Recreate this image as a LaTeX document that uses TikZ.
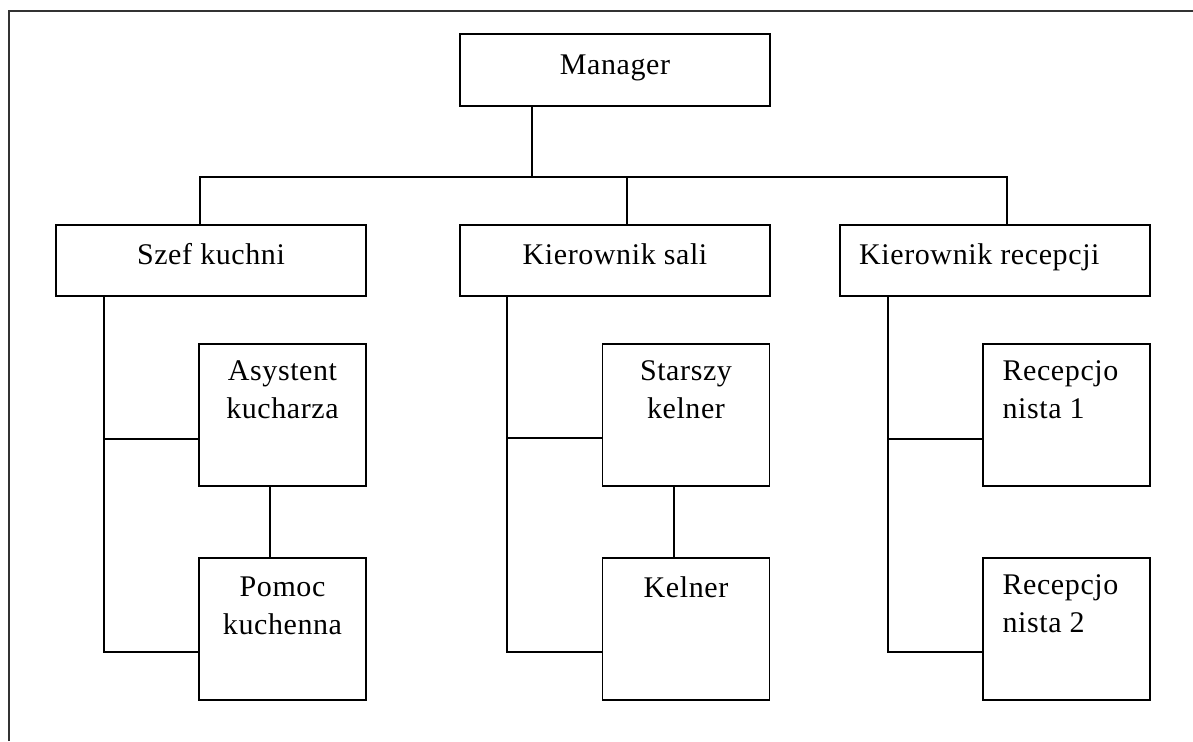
\documentclass[tikz,border=0pt]{standalone}
\usepackage{fontspec}
\setmainfont{Liberation Serif}[LetterSpace=2]
\begin{document}
\begin{tikzpicture}[x=1pt,y=-1pt,
  box/.style={draw, line width=1.3pt, inner sep=0pt, minimum width=#1},
  wide/.style={box=310pt, minimum height=71pt},
  tall/.style={box=167pt, minimum height=142pt},
  lbl/.style={inner sep=0pt, font=\fontsize{30}{38}\selectfont, align=center},
  link/.style={line width=1.3pt, line cap=rect},
  frame/.style={line width=1.8pt, draw=black!80}]
\useasboundingbox (0,0) rectangle (1193,741);

% page frame (top and left edges)
\draw[frame] (9,741) -- (9,11) -- (1193,11);

% boxes
\node[wide, minimum height=72pt] (mgr) at (615,70) {};
\node[wide] (szef) at (211,260.5) {};
\node[wide] (sala) at (615,260.5) {};
\node[wide] (recep) at (995,260.5) {};
\node[tall] (asys) at (282.5,415) {};
\node[tall] (pomoc) at (282.5,629) {};
\node[tall] (starszy) at (686,415) {};
\node[tall] (kelner) at (686,629) {};
\node[tall] (rec1) at (1066.5,415) {};
\node[tall] (rec2) at (1066.5,629) {};

% labels
\node[lbl, anchor=base] (tmgr) at (615,75) {Manager};
\node[lbl, anchor=base] (tszef) at (211,264) {Szef kuchni};
\node[lbl, anchor=base] (tsala) at (615,264) {Kierownik sali};
\node[lbl, anchor=base west] (trecep) at (859,264) {Kierownik recepcji};
\node[lbl, anchor=north] (tasys) at ([yshift=-17pt]asys.north) {Asystent\\kucharza};
\node[lbl, anchor=north] (tpomoc) at ([yshift=-19pt]pomoc.north) {Pomoc\\kuchenna};
\node[lbl, anchor=north] (tstarszy) at ([yshift=-17pt]starszy.north) {Starszy\\kelner};
\node[lbl, anchor=north] (tkelner) at ([yshift=-19pt]kelner.north) {Kelner};
\node[lbl, anchor=north west, align=left] (trec1) at ([xshift=20pt,yshift=-17pt]rec1.north west) {Recepcjo\\nista 1};
\node[lbl, anchor=north west, align=left] (trec2) at ([xshift=20pt,yshift=-17pt]rec2.north west) {Recepcjo\\nista 2};

% top level bus
\coordinate (busTop) at (532,177);
\coordinate (busL) at (200,177);
\coordinate (busM) at (627,177);
\coordinate (busR) at (1007,177);
\draw[link] (busTop |- mgr.south) -- (busTop);
\draw[link] (busL) -- (busR);
\draw[link] (busL) -- (busL |- szef.north);
\draw[link] (busM) -- (busM |- sala.north);
\draw[link] (busR) -- (busR |- recep.north);

% kitchen branch
\coordinate (k1) at (104,439);
\coordinate (k2) at (104,652);
\coordinate (kc) at (270,0);
\draw[link] (k1 |- szef.south) -- (k2) -- (k2 -| pomoc.west);
\draw[link] (k1) -- (k1 -| asys.west);
\draw[link] (kc |- asys.south) -- (kc |- pomoc.north);

% dining room branch
\coordinate (s1) at (507,438);
\coordinate (s2) at (507,652);
\coordinate (sc) at (674,0);
\draw[link] (s1 |- sala.south) -- (s2) -- (s2 -| kelner.west);
\draw[link] (s1) -- (s1 -| starszy.west);
\draw[link] (sc |- starszy.south) -- (sc |- kelner.north);

% reception branch
\coordinate (r1) at (888,439);
\coordinate (r2) at (888,652);
\draw[link] (r1 |- recep.south) -- (r2) -- (r2 -| rec2.west);
\draw[link] (r1) -- (r1 -| rec1.west);
\end{tikzpicture}
\end{document}
